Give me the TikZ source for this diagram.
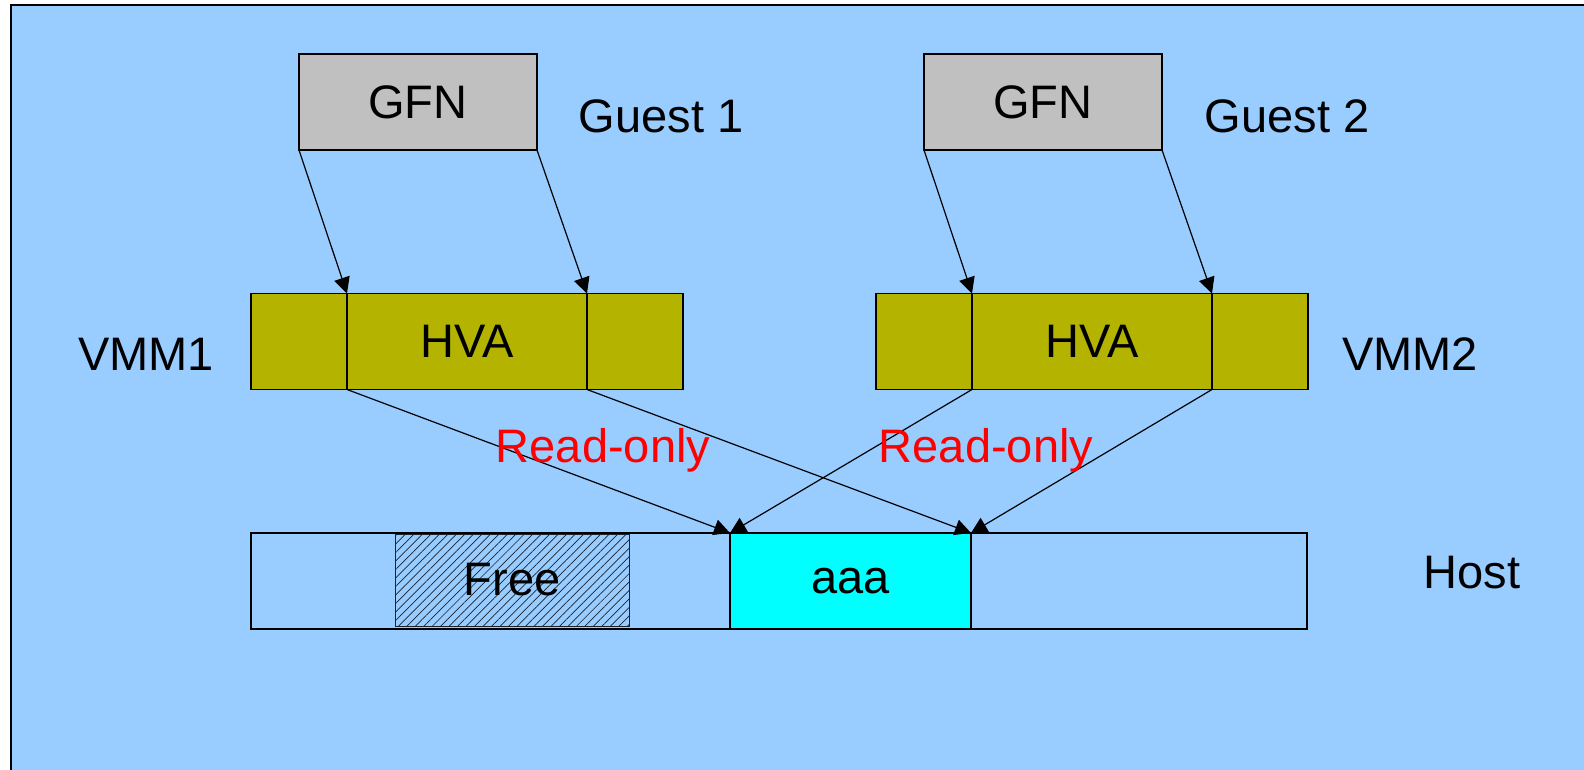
\documentclass[tikz,border=0pt]{standalone}
\usepackage{fontspec}
\setmainfont{Liberation Sans}
\usetikzlibrary{arrows.meta,positioning,patterns.meta}
\definecolor{bgblue}{HTML}{99CCFF}
\definecolor{guestgray}{HTML}{C0C0C0}
\definecolor{vmmolive}{HTML}{B3B300}
\definecolor{pagecyan}{HTML}{00FFFF}
\definecolor{hatchgray}{HTML}{1A2230}

\begin{document}
\begin{tikzpicture}[
  x=0.5pt, y=-0.5pt,
  font=\fontsize{23.5}{28}\selectfont,
  box/.style={draw, line width=0.7pt, inner sep=0pt, outer sep=0pt, minimum height=48pt},
  cell/.style={box, fill=vmmolive, minimum width=48pt},
  hva/.style={box, fill=vmmolive, minimum width=120pt},
  txt/.style={inner sep=0pt},
  arrow/.style={-{Triangle[length=8pt, width=8pt]}, line width=0.6pt}
]
\clip (0,0) rectangle (1584,770);
\draw[fill=bgblue, line width=1.1pt] (11,5) rectangle (1600,790);

% guest frames
\node[box, fill=guestgray, minimum width=119pt] (gfn1) at (418,102) {GFN};
\node[box, fill=guestgray, minimum width=119pt] (gfn2) at (1043,102) {GFN};
\node[txt] (guest1) at (661,116) {Guest 1};
\node[txt] (guest2) at (1287,116) {Guest 2};

% VMM address spaces
\node[hva] (hva1) at (467,341.5) {HVA};
\node[cell, left=0pt of hva1] (vmm1l) {};
\node[cell, right=0pt of hva1] (vmm1r) {};
\node[hva] (hva2) at (1092,341.5) {HVA};
\node[cell, left=0pt of hva2] (vmm2l) {};
\node[cell, right=0pt of hva2] (vmm2r) {};
\node[txt] (vmm1) at (146,354) {VMM1};
\node[txt] (vmm2) at (1410,354) {VMM2};

% host memory
\node[box, minimum width=528pt] (host) at (779,581) {};
\node[draw=hatchgray, line width=0.5pt, pattern={Lines[angle=45, distance=3pt, line width=0.35pt]},
  pattern color=hatchgray, minimum width=117pt, minimum height=46pt,
  inner sep=0pt, outer sep=0pt] (free) at (512,580) {};
\node[txt] at (free) {Free};
\node[box, fill=pagecyan, minimum width=120.5pt] (aaa) at (850.5,581) {aaa};
\node[txt] (hostlbl) at (1472,573) {Host};

\draw[arrow] (gfn1.south west) -- (hva1.north west);
\draw[arrow] (gfn1.south east) -- (hva1.north east);
\draw[arrow] (gfn2.south west) -- (hva2.north west);
\draw[arrow] (gfn2.south east) -- (hva2.north east);
\draw[arrow] (hva1.south west) -- (aaa.north west);
\draw[arrow] (hva1.south east) -- (aaa.north east);
\draw[arrow] (hva2.south west) -- (aaa.north west);
\draw[arrow] (hva2.south east) -- (aaa.north east);

\node[txt, text=red] (ro1) at (603,450) {Read-only};
\node[txt, text=red] (ro2) at (986,450) {Read-only};
\end{tikzpicture}
\end{document}
